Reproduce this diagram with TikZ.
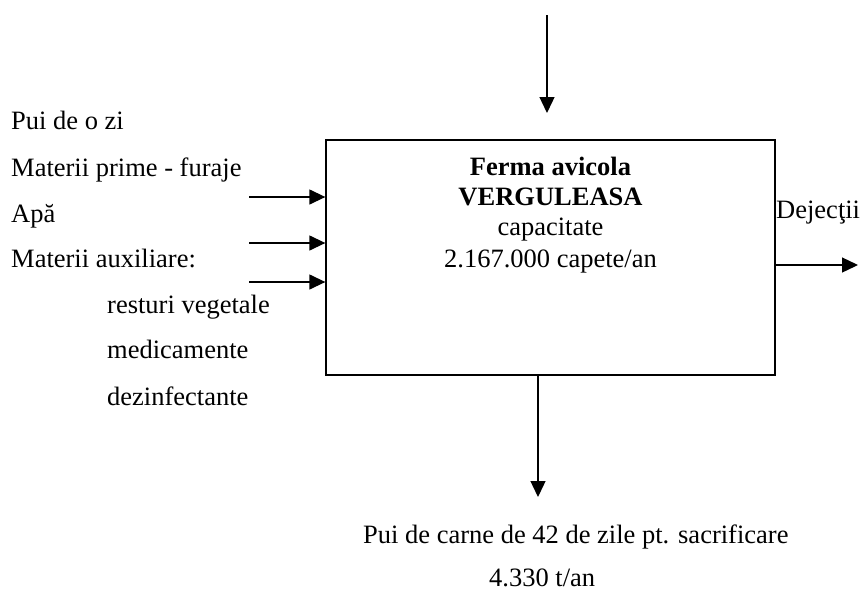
\documentclass[tikz,border=0pt]{standalone}
\usepackage{fontspec}
\setmainfont{Liberation Serif}
\usetikzlibrary{arrows.meta}
\begin{document}
\begin{tikzpicture}[x=1pt,y=-1pt]
        \tikzstyle{every node}=[font=\fontsize{26.5}{30}\selectfont,inner sep=0pt]
        \tikzstyle{txt}=[anchor=base west]
        \tikzstyle{mid}=[anchor=base]
        \tikzstyle{flux}=[line width=1.3pt,-{Triangle[length=16pt,width=15pt]}]
        \useasboundingbox (0,0) rectangle (864,590);
        \node[draw,line width=1.3pt,minimum width=449pt,minimum height=235pt] (ferma) at (550.5,257.5) {};
        \node[mid,font=\fontsize{26.5}{30}\selectfont\bfseries] (nume) at (550.5,175) {Ferma avicola};
        \node[mid,font=\fontsize{26.5}{30}\selectfont\bfseries] (loc) at (550.5,205) {VERGULEASA};
        \node[mid] (cap) at (550.5,235) {capacitate};
        \node[mid] (capete) at (550.5,267) {2.167.000 capete/an};
        % intrari
        \node[txt] (pui) at (11,129) {Pui de o zi};
        \node[txt] (furaje) at (11,176) {Materii prime - furaje};
        \node[txt] (apa) at (11,222) {Apă};
        \node[txt] (aux) at (11,267) {Materii auxiliare:};
        \node[txt] (resturi) at (107,313) {resturi vegetale};
        \node[txt] (medic) at (107,358) {medicamente};
        \node[txt] (dezinf) at (107,405) {dezinfectante};
        \coordinate (in1) at (249,197);
        \coordinate (in2) at (249,243);
        \coordinate (in3) at (249,282);
        \foreach \i in {1,2,3}
            \draw[flux] (in\i) -- (in\i -| ferma.west);
        % sus
        \coordinate (sus) at (547,15);
        \coordinate (sus2) at (547,113);
        \draw[flux] (sus) -- (sus2);
        % iesiri
        \node[txt] (dejectii) at (776,218) {Dejecţii};
        \coordinate (dej) at (858,265);
        \draw[flux] (dej -| ferma.east) -- (dej);
        \coordinate (jos) at (538,497);
        \draw[flux] (jos |- ferma.south) -- (jos);
        \node[txt] (carne) at (363,543) {Pui de carne de 42 de zile pt. sacrificare};
        \node[txt] (tone) at (489,586) {4.330 t/an};
\end{tikzpicture}
\end{document}
